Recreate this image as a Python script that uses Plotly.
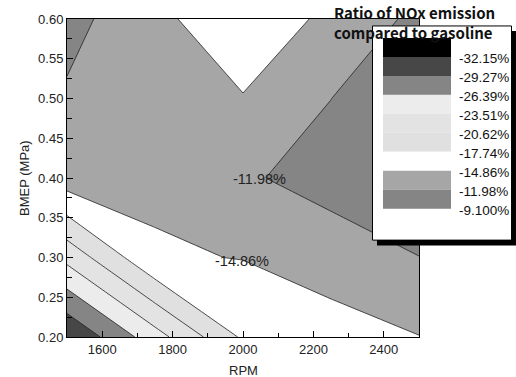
import plotly.graph_objects as go

# ---------------- data ----------------
rpm = [1500, 1750, 2000, 2250, 2500]
bmep = [0.2, 0.3, 0.4, 0.5, 0.6]
# ratio of NOx emission compared to gasoline (%), rows = bmep, cols = rpm
z_ratio = [
    [-32.05, -24.70, -17.30, -16.15, -14.93],
    [-22.66, -15.15, -14.78, -13.46, -12.00],
    [-13.34, -14.39, -12.35, -10.92, -11.00],
    [-12.34, -13.40, -14.70, -12.00, -9.50],
    [-11.06, -14.09, -17.05, -14.14, -11.30],
]
levels = [-32.15, -29.27, -26.39, -23.51, -20.62, -17.74, -14.86, -11.98, -9.10]
level_labels = ["-32.15%", "-29.27%", "-26.39%", "-23.51%", "-20.62%",
                "-17.74%", "-14.86%", "-11.98%", "-9.100%"]
band_colors = ["#000000", "#474747", "#858585", "#ececec", "#e3e3e3",
               "#e0e0e0", "#ffffff", "#a6a6a6", "#858585", "#606060"]
x_ticks = [1600, 1800, 2000, 2200, 2400]
y_ticks = [0.20, 0.25, 0.30, 0.35, 0.40, 0.45, 0.50, 0.55, 0.60]
line_labels = [("-11.98%", 2048, 0.399), ("-14.86%", 1997, 0.296)]

# ---------------- layout helpers ----------------
W, H = 516, 377
ML, MR, MT, MB = 67, 97, 17, 40
PW, PH = W - ML - MR, H - MT - MB


def px_x(px):
    return (px - ML) / PW


def px_y(py):
    return (H - MB - py) / PH


step = (levels[-1] - levels[0]) / (len(levels) - 1)
n = len(band_colors)
cscale = []
for j, c in enumerate(band_colors):
    a = max(0.0, (j - 0.5) / (n - 1))
    b = min(1.0, (j + 0.5) / (n - 1))
    cscale.append([a, c])
    cscale.append([b, c])

fig = go.Figure()
fig.add_trace(go.Contour(
    x=rpm, y=bmep, z=z_ratio,
    colorscale=cscale,
    showscale=False,
    contours=dict(start=levels[0], end=levels[-1] + 0.01, size=step,
                  coloring="fill", showlines=True),
    line=dict(color="#222222", width=0.8, smoothing=0),
    hoverinfo="skip",
))

font_ax = "Liberation Sans, Arial, sans-serif"

fig.update_layout(
    width=W, height=H,
    margin=dict(l=ML, r=MR, t=MT, b=MB, pad=0),
    paper_bgcolor="white", plot_bgcolor="white",
    showlegend=False,
    font=dict(family=font_ax, size=13, color="#222222"),
)
fig.update_xaxes(
    range=[1500, 2500], tickmode="array", tickvals=x_ticks,
    ticks="inside", ticklen=6, tickwidth=1, tickcolor="black",
    minor=dict(dtick=100, ticks="inside", ticklen=4, tickcolor="black"),
    showline=True, linecolor="black", linewidth=1, mirror=True,
    showgrid=False, zeroline=False, tickfont=dict(size=13, color="#222222"),
)
fig.update_yaxes(
    range=[0.2, 0.6], tickmode="array", tickvals=y_ticks, tickformat=".2f",
    ticks="inside", ticklen=6, tickwidth=1, tickcolor="black",
    minor=dict(dtick=0.025, ticks="inside", ticklen=5, tickcolor="black"),
    showline=True, linecolor="black", linewidth=1, mirror=True,
    showgrid=False, zeroline=False, tickfont=dict(size=13, color="#222222"),
)

ann = []
# axis titles
ann.append(dict(text="RPM", x=px_x(243), y=px_y(371), xref="paper", yref="paper",
                xanchor="center", yanchor="middle",
                showarrow=False, font=dict(size=13, color="#222222")))
ann.append(dict(text="BMEP (MPa)", x=px_x(24), y=px_y(177), xref="paper", yref="paper",
                xanchor="center", yanchor="middle",
                showarrow=False, textangle=-90, font=dict(size=13, color="#222222")))
# contour line labels
for t, xv, yv in line_labels:
    ann.append(dict(text=t, x=xv, y=yv, xref="x", yref="y", showarrow=False,
                    xanchor="center", yanchor="middle",
                    font=dict(size=14.5, color="#222222")))

shapes = []
# legend shadow and box
shapes.append(dict(type="rect", xref="paper", yref="paper",
                   x0=px_x(377), x1=px_x(517), y0=px_y(245), y1=px_y(29),
                   fillcolor="black", line=dict(width=0), layer="above"))
shapes.append(dict(type="rect", xref="paper", yref="paper",
                   x0=px_x(372.5), x1=px_x(511.5), y0=px_y(239.5), y1=px_y(24),
                   fillcolor="white", line=dict(color="black", width=1), layer="above"))
# legend swatches and labels
for i, (lab, col) in enumerate(zip(level_labels, band_colors)):
    ly = 56.7 + i * 19.08
    shapes.append(dict(type="rect", xref="paper", yref="paper",
                       x0=px_x(383), x1=px_x(451), y0=px_y(ly - 1.5), y1=px_y(ly - 20.6),
                       fillcolor=col, line=dict(width=0), layer="above"))
    ann.append(dict(text=lab, x=px_x(456.5), y=px_y(ly), xref="paper", yref="paper",
                    xanchor="left", yanchor="middle", showarrow=False,
                    font=dict(size=13.5, color="#111111")))
# legend title
ann.append(dict(text="<b>Ratio of NOx emission<br>compared to gasoline</b>",
                x=px_x(332), y=px_y(-2.5), xref="paper", yref="paper",
                xanchor="left", yanchor="top", align="left", showarrow=False,
                font=dict(family="Noto Sans CJK KR, Noto Sans, sans-serif", size=15,
                          color="#111111")))

fig.update_layout(annotations=ann, shapes=shapes)
fig.write_html("out.html")
